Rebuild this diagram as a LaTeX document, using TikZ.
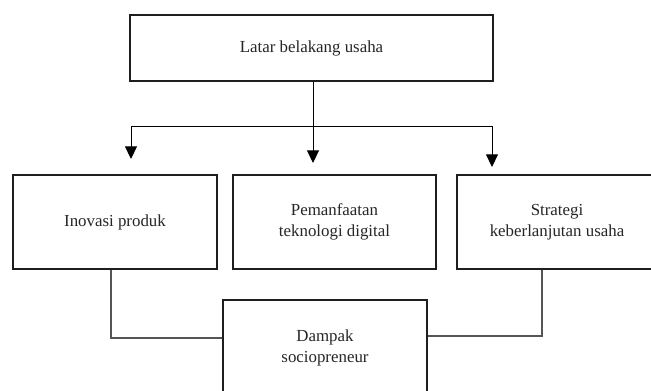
\documentclass[tikz,border=0pt]{standalone}
\usepackage{fontspec}
\setmainfont{Liberation Serif}
\definecolor{boxline}{RGB}{30, 30, 30}
\definecolor{linkgray}{RGB}{85, 85, 85}
\usepackage{tikz}
\usetikzlibrary{arrows.meta, positioning, calc}

\begin{document}
\begin{tikzpicture}[
  box/.style={draw=boxline, line width=1.4pt, fill=white, align=center, inner sep=0pt,
    font=\fontsize{12}{15}\selectfont, text=black!85},
  flow/.style={-{Triangle[width=8.5pt, length=9pt]}, line width=0.7pt, black},
  link/.style={line width=0.8pt, linkgray}
]
  \useasboundingbox (0, 0) rectangle (16.275, 9.75);

  % Top box
  \node[box, minimum width=9.075cm, minimum height=1.65cm] (latar) at (7.7875, 8.55) {Latar belakang usaha};

  % Middle row
  \node[box, minimum width=5.1cm, minimum height=2.35cm] (inovasi) at (2.875, 4.2) {Inovasi produk};
  \node[box, minimum width=5.075cm, minimum height=2.35cm] (digital) at (8.3625, 4.2) {Pemanfaatan\\teknologi digital};
  \node[box, minimum width=5.0cm, minimum height=2.35cm] (strategi) at (13.925, 4.2) {Strategi\\keberlanjutan usaha};

  % Bottom box
  \node[box, minimum width=5.1cm, minimum height=2.4cm] (dampak) at (8.125, 1.05) {Dampak\\sociopreneur};

  % Branch points
  \coordinate (split) at (7.825, 6.6);
  \coordinate (splitL) at (3.275, 6.6);
  \coordinate (splitR) at (12.3, 6.6);
  \coordinate (tipL) at (3.275, 5.775);
  \coordinate (tipM) at (7.825, 5.675);
  \coordinate (tipR) at (12.3, 5.575);

  % Arrows from the top box
  \draw[line width=0.7pt] (latar.south -| split) -- (split);
  \draw[line width=0.7pt] (splitL) -- (splitR);
  \draw[flow] (splitL) -- (tipL);
  \draw[flow] (split) -- (tipM);
  \draw[flow] (splitR) -- (tipR);

  % Links to the bottom box
  \draw[link] ([xshift=-0.1cm]inovasi.south) |- ([yshift=0.25cm]dampak.west);
  \draw[link] ([xshift=-0.375cm]strategi.south) |- ([yshift=0.3cm]dampak.east);
\end{tikzpicture}
\end{document}
